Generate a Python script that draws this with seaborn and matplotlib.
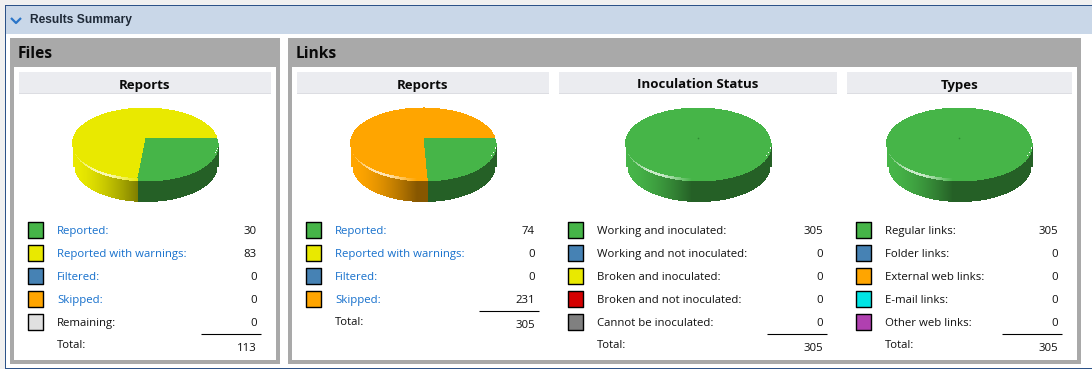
import numpy as np
import pandas as pd
import matplotlib
matplotlib.use("Agg")
import matplotlib.pyplot as plt
from matplotlib.colors import to_rgb
from matplotlib.patches import Rectangle
from matplotlib.transforms import Transform
import seaborn as sns

# ---------- data ----------
GREEN, YELLOW, BLUE, ORANGE, LGREY = "#46b548", "#e9e900", "#4682b4", "#ffa500", "#e0e0e0"
RED, GREY, CYAN, PURPLE = "#d40000", "#808080", "#00e5e5", "#b040b0"

files_labels = ["Reported:", "Reported with warnings:", "Filtered:", "Skipped:", "Remaining:"]
files_values = [30, 83, 0, 0, 0]
files_colors = [GREEN, YELLOW, BLUE, ORANGE, LGREY]
files_links = [True, True, True, True, False]
files_total = 113

links_labels = ["Reported:", "Reported with warnings:", "Filtered:", "Skipped:"]
links_values = [74, 0, 0, 231]
links_colors = [GREEN, YELLOW, BLUE, ORANGE]
links_links = [True, True, True, True]
links_total = 305

inoc_labels = ["Working and inoculated:", "Working and not inoculated:", "Broken and inoculated:",
               "Broken and not inoculated:", "Cannot be inoculated:"]
inoc_values = [305, 0, 0, 0, 0]
inoc_colors = [GREEN, BLUE, YELLOW, RED, GREY]
inoc_links = [False] * 5
inoc_total = 305

types_labels = ["Regular links:", "Folder links:", "External web links:", "E-mail links:", "Other web links:"]
types_values = [305, 0, 0, 0, 0]
types_colors = [GREEN, BLUE, ORANGE, CYAN, PURPLE]
types_links = [False] * 5
types_total = 305

# ---------- layout ----------
W, H = 1092, 369
sns.set_theme(style="white")
plt.rcParams["font.family"] = ["Open Sans", "DejaVu Sans"]
PT = 0.72  # points per pixel at dpi 100
BODY = 11.4 * PT
INK = "#101010"
fig = plt.figure(figsize=(W / 100, H / 100), dpi=100, facecolor="#f0f0f0")
ov = fig.add_axes([0, 0, 1, 1], zorder=0)
ov.set_xlim(0, W)
ov.set_ylim(H, 0)
ov.axis("off")


def box(x0, y0, x1, y1, color, **kw):
    ov.add_patch(Rectangle((x0, y0), x1 - x0, y1 - y0, facecolor=color, edgecolor="none",
                           antialiased=False, linewidth=0, **kw))


# frame
box(5, 5, W, 369, "#2c5288")
box(6, 6, W, 368, "white")
box(6, 6, W, 34, "#c9d7e8")
ov.plot([11, 16, 21], [18, 23, 18], color="#2a75c8", lw=2 * PT * 1.1, solid_capstyle="butt")
ov.text(30, 19.5, "Results Summary", family="Liberation Sans", fontsize=12 * PT, weight="bold",
        color="#1f2a38", va="center", ha="left")

# grey panels
for x0, x1, inner0, inner1, title in [(10, 280, 14, 276, "Files"), (288, 1081, 292, 1077, "Links")]:
    box(x0, 38, x1, 364, "#a9a9a9")
    box(inner0, 67, inner1, 360, "white")
    ov.text(inner0 + 4, 53.5, title, fontsize=15.5 * PT, weight="bold", color="#0a0a0a", va="center", ha="left")

ROWS = [230, 253, 276, 299, 322]
APEX, DEPTH = 138.0, 23.0          # pixel row of pie centre, wall height
RX, RY, MID = 72.5, 35.0, -5.0     # projected rim: half width, half height, rim centre vs apex
K, B, A = 1 / 7, 30 * (1 + 1 / 7), 71.76  # perspective of the tilted disc


class Tilt(Transform):
    """Perspective view of the unit disc, output in pixels relative to the apex."""
    input_dims = output_dims = 2

    def transform_non_affine(self, values):
        v = np.asarray(values, dtype=float)
        w = 1 + K * v[:, 1]
        return np.column_stack([A * v[:, 0] / w, B * v[:, 1] / w])


def draw_pie(cx, values, colors):
    fractions = np.cumsum(values) / np.sum(values)
    # side wall, one pixel column at a time
    xs = np.arange(np.floor(cx - RX), np.ceil(cx + RX)) + 0.5
    dxs = np.clip(xs - cx, -RX, RX)
    tops, bottoms, cols, hi_bottoms, hi_cols = [], [], [], [], []
    for dx in dxs:
        u = dx / RX
        down = RY * np.sqrt(1 - u * u)
        top = APEX - MID + down
        # rim point back on the unit disc gives the slice this column belongs to
        Y = MID - down
        y = Y / (B - K * Y)
        x = dx * (1 + K * y) / A
        theta = np.arctan2(-y, x) / (2 * np.pi)
        idx = min(int(np.searchsorted(fractions, theta)), len(colors) - 1)
        base = np.array(to_rgb(colors[idx]))
        t = np.clip((u + 0.95) / 0.85, 0, 1)
        shade = 1.0 - 0.47 * t ** 1.5
        u2 = min(abs(u) / 0.985, 1.0)
        bottom = APEX - MID + RY * np.sqrt(1 - u2 * u2) + DEPTH
        tops.append(top)
        bottoms.append(bottom)
        cols.append(tuple(base * shade))
        glow = np.clip(1.25 - abs(u + 0.6) / 0.4, 0, 1) * 0.7
        hi_bottoms.append(top + 2.5)
        hi_cols.append(tuple(base + (1 - base) * glow))
    ov.vlines(xs, tops, bottoms, colors=cols, linewidth=PT, antialiased=False)
    ov.vlines(xs, tops, hi_bottoms, colors=hi_cols, linewidth=PT, antialiased=False)

    # top face: a real pie, seen through the tilt transform
    half_w, half_h = 90.0, 60.0
    ax = fig.add_axes([(cx - half_w) / W, 1 - (APEX + half_h) / H, 2 * half_w / W, 2 * half_h / H],
                      zorder=1)
    ax.patch.set_alpha(0)
    wedges, _ = ax.pie(values, colors=colors, startangle=0, counterclock=False, radius=1.0,
                       wedgeprops={"linewidth": 0, "antialiased": False})
    ax.set_aspect("auto")
    ax.set_xlim(-half_w, half_w)
    ax.set_ylim(-half_h, half_h)
    ax.set_axis_off()
    tilt = Tilt() + ax.transData
    for wedge in wedges:
        wedge.set_transform(tilt)
        wedge.set_clip_on(False)
    if np.count_nonzero(values) == 1:
        ax.plot([0], [0], marker="o", ms=1.2, color="#2f8a33", mew=0)


def legend(labels, values, colors, links, total, sw_x, label_x, value_x, rule):
    rows = ROWS[:len(labels)]
    last = rows[-1]
    frame = pd.DataFrame({"x": [sw_x] * len(labels), "y": rows, "label": labels})
    sns.scatterplot(data=frame, x="x", y="y", hue="label", palette=dict(zip(labels, colors)),
                    marker="s", s=(15.5 * PT) ** 2, edgecolor="black", linewidth=1.4 * PT,
                    legend=False, ax=ov, zorder=3)
    for r, lab, val, link in zip(rows, labels, values, links):
        ov.text(label_x, r + 1.5, lab, fontsize=BODY, color="#1670cc" if link else INK,
                va="center", ha="left")
        ov.text(value_x, r + 1.5, str(val), fontsize=BODY, color=INK, va="center", ha="right")
    ov.plot(rule, [last + 12, last + 12], color="black", lw=1.1 * PT, solid_capstyle="butt")
    ov.text(label_x, last + 23.5, "Total:", fontsize=BODY, color=INK, va="center", ha="left")
    ov.text(value_x, last + 26.5, str(total), fontsize=BODY, color=INK, va="center", ha="right")
    ov.set_xlabel("")
    ov.set_ylabel("")


charts = [
    ("Reports", (19, 271), 145.0, files_labels, files_values, files_colors, files_links, files_total,
     35.5, 57, 257, (201, 261)),
    ("Reports", (297, 549), 423.0, links_labels, links_values, links_colors, links_links, links_total,
     313.5, 335, 535, (479, 539)),
    ("Inoculation Status", (559, 837), 698.0, inoc_labels, inoc_values, inoc_colors, inoc_links, inoc_total,
     575.5, 597, 823, (767, 827)),
    ("Types", (847, 1072), 959.0, types_labels, types_values, types_colors, types_links, types_total,
     863.5, 885, 1058, (1002, 1062)),
]
for title, (h0, h1), cx, labs, vals, cols, lnks, tot, sx, lx, vx, rule in charts:
    box(h0, 72, h1, 94, "#ebecf0")
    box(h0, 93, h1, 94, "#dcdde2")
    ov.text((h0 + h1) / 2, 85, title, fontsize=13.3 * PT, weight="bold", color="#0a0a0a", va="center", ha="center")
    draw_pie(cx, vals, cols)
    legend(labs, vals, cols, lnks, tot, sx, lx, vx, rule)

ov.set_xlim(0, W)
ov.set_ylim(H, 0)
ov.axis("off")
fig.savefig("out.png", dpi=100, facecolor=fig.get_facecolor())
